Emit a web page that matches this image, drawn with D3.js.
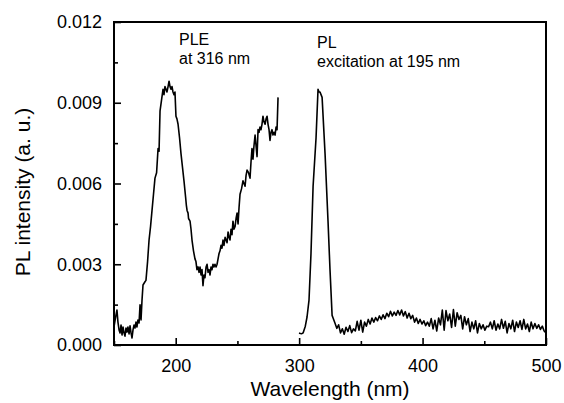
<!DOCTYPE html>
<html>
<head>
<meta charset="utf-8">
<script src="https://cdn.jsdelivr.net/npm/d3@7"></script>
<style>
  body { margin: 0; background: white; }
  text { font-family: "Liberation Sans", Arial, sans-serif; }
</style>
</head>
<body>
<script>
// PLE spectrum (emission monitored at 316 nm): [wavelength nm, intensity]
var pleData = [
  [150,0.00067],[151.6,0.00111],[152.4,0.0013],[153.2,0.00085],[154.1,0.00056],[154.9,0.00045],
  [155.7,0.00074],[156.5,0.00037],[157.3,0.00067],[158.1,0.00045],[158.9,0.00033],[159.7,0.00063],
  [160.5,0.00048],[161.3,0.00067],[162.2,0.00041],[163,0.00071],[163.8,0.00045],[164.6,0.00026],
  [165.4,0.00056],[166.2,0.00074],[167,0.00063],[167.8,0.00085],[168.6,0.00067],[169.4,0.00093],
  [170.3,0.00082],[171.1,0.00149],[171.9,0.00093],[172.7,0.00167],[173.5,0.00223],[175.1,0.00235],
  [175.9,0.0024],[177.2,0.0031],[178.4,0.0039],[179.6,0.0044],[180.8,0.005],[182,0.0056],
  [183.2,0.0062],[184.5,0.0064],[185.7,0.0073],[186.5,0.0072],[187.3,0.0087],[188.5,0.0091],
  [189.7,0.0095],[190.5,0.0093],[191.3,0.0096],[192.1,0.0095],[192.9,0.0094],[193.8,0.0096],
  [194.6,0.0098],[195.4,0.0096],[196.2,0.0095],[197,0.0096],[197.8,0.0094],[198.6,0.0093],
  [199.4,0.0094],[200.2,0.0085],[201,0.0084],[201.9,0.0082],[203.1,0.0077],[204.3,0.0071],
  [205.5,0.0066],[206.7,0.0061],[208,0.0055],[208.6,0.0052],[209.2,0.0050],[210,0.0049],
  [210.4,0.0047],[211.6,0.0046],[212.4,0.0043],[213.2,0.0039],[214.4,0.0035],[215.6,0.0032],
  [216.4,0.0031],[217.2,0.0028],[218.1,0.0029],[218.9,0.0027],[219.7,0.0029],[220.5,0.0026],
  [221.3,0.0028],[222.1,0.0022],[222.9,0.0026],[223.7,0.0025],[224.6,0.0029],[225.4,0.003],
  [226.2,0.0027],[227,0.0028],[227.8,0.0026],[228.6,0.0029],[229.4,0.0028],[230.2,0.003],
  [231,0.0029],[231.8,0.003],[232.7,0.0029],[233.5,0.003],[234.3,0.0032],[235.1,0.0034],
  [235.9,0.0035],[236.7,0.0037],[237.5,0.0036],[238.3,0.0039],[239.1,0.0037],[240,0.004],
  [240.8,0.0039],[241.6,0.0038],[242.4,0.0042],[243.2,0.0040],[244,0.0039],[244.8,0.0043],
  [245.6,0.0041],[246.4,0.0046],[247.2,0.0043],[248.1,0.0044],[248.9,0.0047],[249.7,0.0049],
  [250.5,0.0045],[251.3,0.0051],[252.1,0.0056],[253.3,0.0058],[254.5,0.0061],[255.3,0.006],
  [256.2,0.0059],[257,0.0063],[257.8,0.0065],[259,0.0064],[260.2,0.0062],[261,0.0068],
  [261.8,0.0073],[262.6,0.0069],[263.4,0.0074],[264.3,0.0078],[265.1,0.0074],[265.9,0.007],
  [266.7,0.008],[267.5,0.0079],[268.3,0.0081],[269.1,0.008],[269.9,0.0082],[270.7,0.0085],
  [271.5,0.0083],[272.4,0.0082],[273.2,0.0084],[274,0.0085],[274.8,0.0082],[275.6,0.008],
  [276.4,0.0076],[277.2,0.0079],[278,0.008],[278.8,0.0078],[279.6,0.0079],[280.5,0.0078],
  [281.3,0.0081],[282.1,0.008],[282.9,0.0092]
];

// PL spectrum (excitation at 195 nm): [wavelength nm, intensity]
var plData = [
  [299.9,0.00045],[301,0.00043],[302.2,0.00042],[303.2,0.00045],[305,0.0007],[306.4,0.00104],
  [308,0.00167],[309.6,0.0034],[311.3,0.0059],[313.7,0.0077],[315.3,0.0095],[316.1,0.0094],
  [316.9,0.0094],[318.6,0.0092],[321,0.0071],[323.4,0.0046],[325,0.0028],[326.7,0.0011],
  [327.5,0.001],[329,0.00082],[330.5,0.00062],[332,0.00075],[333.5,0.00045],[335,0.0006],
  [336.5,0.0004],[338,0.00066],[339.5,0.0005],[341,0.00072],[342.5,0.00046],[344,0.0006],
  [345.5,0.00052],[347,0.00088],[348.5,0.00055],[350,0.00092],[351.5,0.00048],[353,0.00085],
  [354.5,0.0007],[356,0.00095],[357.5,0.00078],[359,0.001],[360.5,0.00085],[362,0.00102],
  [363.5,0.0009],[365,0.00108],[366.5,0.00095],[368,0.00112],[369.5,0.00098],[371,0.00118],
  [372.5,0.00105],[374,0.00125],[375.5,0.00108],[377,0.00122],[378.5,0.0011],[380,0.00128],
  [381.5,0.00112],[383,0.0013],[384.5,0.00108],[386,0.00124],[387.5,0.001],[389,0.00118],
  [390.5,0.00098],[392,0.0011],[393.5,0.00085],[395,0.001],[396.5,0.0008],[398,0.00095],
  [399.5,0.00078],[401,0.0009],[402.5,0.00072],[404,0.00085],[405.5,0.0007],[407,0.00098],
  [408.5,0.0006],[410,0.00092],[411.5,0.00052],[413,0.001],[414.5,0.00075],[416,0.0013],
  [417.5,0.00055],[419,0.00128],[420.5,0.0009],[422,0.00115],[423.5,0.00065],[425,0.00132],
  [426.5,0.0007],[428,0.0012],[429.5,0.00095],[431,0.0011],[432.5,0.0006],[434,0.00105],
  [435.5,0.00075],[437,0.00098],[438.5,0.0005],[440,0.00085],[441.5,0.0006],[443,0.0009],
  [444.5,0.00045],[446,0.0008],[447.5,0.0006],[449,0.00075],[450.5,0.00055],[452,0.0007],
  [453.5,0.00068],[455,0.00085],[456.5,0.0006],[458,0.0009],[459.5,0.00055],[461,0.00078],
  [462.5,0.0006],[464,0.00095],[465.5,0.00062],[467,0.00088],[468.5,0.00045],[470,0.0008],
  [471.5,0.0006],[473,0.00092],[474.5,0.0005],[476,0.00085],[477.5,0.00065],[479,0.0009],
  [480.5,0.00058],[482,0.00095],[483.5,0.0006],[485,0.00078],[486.5,0.0005],[488,0.00085],
  [489.5,0.0006],[491,0.0008],[492.5,0.00062],[494,0.00075],[495.5,0.00058],[497,0.0007],
  [498.5,0.00052],[500,0.00045]
];

var xMajor = [200, 300, 400, 500];
var xMinor = [150, 250, 350, 450];
var yMajor = [0, 0.003, 0.006, 0.009, 0.012];
var yMinor = [0.0015, 0.0045, 0.0075, 0.0105];

var notes = [
  {x: 179, y: 45, lines: ["PLE", "at 316 nm"]},
  {x: 317, y: 48, lines: ["PL", "excitation at 195 nm"]}
];

var W = 564, H = 403;
var m = {left: 114, top: 22, right: 18, bottom: 58};
var pw = W - m.left - m.right, ph = H - m.top - m.bottom;

var svg = d3.select("body").append("svg")
    .attr("width", W)
    .attr("height", H);

var x = d3.scaleLinear().domain([150, 500]).range([0, pw]);
var y = d3.scaleLinear().domain([0, 0.012]).range([ph, 0]);

var g = svg.append("g").attr("transform", "translate(" + m.left + "," + m.top + ")");

// axes: ticks point inward, minor ticks shorter
var xAxis = g.append("g").attr("transform", "translate(0," + ph + ")")
    .call(d3.axisBottom(x).tickValues(xMajor).tickSizeInner(-7).tickSizeOuter(0).tickPadding(14));
g.append("g").attr("transform", "translate(0," + ph + ")")
    .call(d3.axisBottom(x).tickValues(xMinor).tickSizeInner(-4).tickSizeOuter(0).tickFormat(""));
var yAxis = g.append("g")
    .call(d3.axisLeft(y).tickValues(yMajor).tickSizeInner(-7).tickSizeOuter(0).tickPadding(12)
      .tickFormat(d3.format(".3f")));
g.append("g")
    .call(d3.axisLeft(y).tickValues(yMinor).tickSizeInner(-4).tickSizeOuter(0).tickFormat(""));

g.selectAll(".domain").remove();
g.selectAll(".tick line").attr("stroke", "black").attr("stroke-width", 1.6);
g.selectAll(".tick text").attr("font-size", "18px").attr("fill", "black")
    .style("font-family", "'Liberation Sans', Arial, sans-serif");
xAxis.selectAll(".tick text").attr("dy", "0.71em");

// frame
g.append("rect")
    .attr("width", pw).attr("height", ph)
    .attr("fill", "none").attr("stroke", "black").attr("stroke-width", 2);

var line = d3.line()
    .x(function (d) { return x(d[0]); })
    .y(function (d) { return y(d[1]); });

[pleData, plData].forEach(function (s) {
  g.append("path")
      .datum(s)
      .attr("d", line)
      .attr("fill", "none")
      .attr("stroke", "black")
      .attr("stroke-width", 1.6)
      .attr("stroke-linejoin", "round");
});

notes.forEach(function (n) {
  var t = svg.append("text")
      .attr("x", n.x).attr("y", n.y)
      .attr("font-size", "16px").attr("fill", "black");
  n.lines.forEach(function (l, i) {
    t.append("tspan").attr("x", n.x).attr("dy", i === 0 ? 0 : 19).text(l);
  });
});

svg.append("text")
    .attr("x", 330).attr("y", 396)
    .attr("text-anchor", "middle")
    .attr("font-size", "21px")
    .text("Wavelength (nm)");

svg.append("text")
    .attr("transform", "translate(30,192) rotate(-90)")
    .attr("text-anchor", "middle")
    .attr("font-size", "21px")
    .text("PL intensity (a. u.)");
</script>
</body>
</html>
